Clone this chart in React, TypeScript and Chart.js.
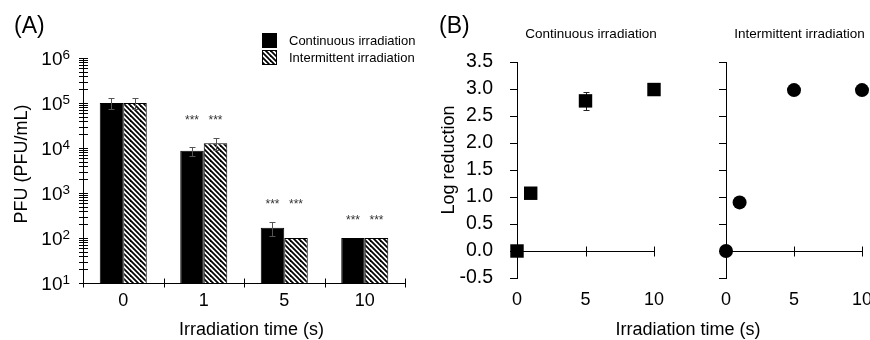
import React, { useEffect, useRef } from 'react';
import { Chart, registerables } from 'chart.js';

Chart.register(...registerables);

const FONT = '"Liberation Sans", Arial, Helvetica, sans-serif';

// ---------- Panel A data ----------
const timeCategories = ['0', '1', '5', '10'];
const seriesNames = ['Continuous irradiation', 'Intermittent irradiation'];
const continuousPFU = [100000, 8700, 170, 100];
const continuousSD = [27000, 2000, 60, 0];
const intermittentPFU = [100000, 12700, 100, 100];
const intermittentSD = [27000, 3700, 0, 0];
const continuousSig = ['', '***', '***', '***'];
const intermittentSig = ['', '***', '***', '***'];
const pfuTickExponents = [1, 2, 3, 4, 5, 6];

// ---------- Panel B data ----------
const timeSeconds = [0, 1, 5, 10];
const continuousLogRed = [0, 1.07, 2.78, 2.99];
const continuousLogRedSD = [0, 0, 0.17, 0];
const intermittentLogRed = [0, 0.9, 2.98, 2.98];
const logRedTicks = [-0.5, 0, 0.5, 1, 1.5, 2, 2.5, 3, 3.5];
const timeTicks = [0, 5, 10];

function makeHatch(): CanvasPattern | string {
  const c = document.createElement('canvas');
  c.width = 10;
  c.height = 10;
  const g = c.getContext('2d');
  if (!g) return '#888';
  g.fillStyle = '#fff';
  g.fillRect(0, 0, 10, 10);
  g.strokeStyle = '#000';
  g.lineWidth = 1.8;
  for (let k = -4; k <= 4; k++) {
    g.beginPath();
    g.moveTo(k * 5 - 3, -3);
    g.lineTo(k * 5 + 13, 13);
    g.stroke();
  }
  const p = g.createPattern(c, 'repeat');
  return p || '#888';
}

function drawErrorBars(chart: any, opts: any) {
  const ctx = chart.ctx;
  const ys = chart.scales.y;
  const cap = opts.cap ?? 3;
  ctx.save();
  ctx.strokeStyle = opts.color || '#555';
  ctx.lineWidth = 1;
  chart.data.datasets.forEach((ds: any, i: number) => {
    if (!ds.sd) return;
    const meta = chart.getDatasetMeta(i);
    meta.data.forEach((el: any, j: number) => {
      const sd = ds.sd[j];
      if (!sd) return;
      const raw = ds.data[j];
      const v = typeof raw === 'number' ? raw : raw.y;
      const x = Math.round(el.x) + 0.5;
      const t = Math.round(ys.getPixelForValue(v + sd)) + 0.5;
      const b = Math.round(ys.getPixelForValue(v - sd)) + 0.5;
      ctx.beginPath();
      ctx.moveTo(x, t);
      ctx.lineTo(x, b);
      ctx.moveTo(x - cap, t);
      ctx.lineTo(x + cap, t);
      ctx.moveTo(x - cap, b);
      ctx.lineTo(x + cap, b);
      ctx.stroke();
    });
  });
  ctx.restore();
}

const errorBarsPlugin = {
  id: 'errorBars',
  beforeDatasetsDraw(chart: any, _a: any, opts: any) {
    if (opts.layer === 'below') drawErrorBars(chart, opts);
  },
  afterDatasetsDraw(chart: any, _a: any, opts: any) {
    if (opts.layer !== 'below') drawErrorBars(chart, opts);
  },
};

const logAxisPlugin = {
  id: 'logAxis',
  afterDraw(chart: any, _a: any, opts: any) {
    const ctx = chart.ctx;
    const ys = chart.scales.y;
    const area = chart.chartArea;
    const x0 = Math.round(area.left) + 0.5;
    const exps: number[] = opts.exponents;
    ctx.save();
    ctx.strokeStyle = '#000';
    ctx.lineWidth = 1;
    ctx.beginPath();
    ctx.moveTo(x0, Math.round(area.top));
    ctx.lineTo(x0, Math.round(area.bottom) + 1);
    exps.forEach((e, k) => {
      const maxM = k === exps.length - 1 ? 1 : 9;
      for (let m = 1; m <= maxM; m++) {
        const py = Math.round(ys.getPixelForValue(m * Math.pow(10, e))) + 0.5;
        ctx.moveTo(x0 - 4.5, py);
        ctx.lineTo(x0 + 4.5, py);
      }
    });
    ctx.stroke();
    ctx.fillStyle = '#000';
    const right = area.left - 13;
    exps.forEach((e) => {
      const py = ys.getPixelForValue(Math.pow(10, e));
      const sup = String(e);
      ctx.font = `13.5px ${FONT}`;
      const sw = ctx.measureText(sup).width;
      ctx.textAlign = 'left';
      ctx.textBaseline = 'alphabetic';
      ctx.fillText(sup, right - sw, py + 1);
      ctx.font = `19px ${FONT}`;
      ctx.textAlign = 'right';
      ctx.fillText('10', right - sw, py + 6.8);
    });
    ctx.restore();
  },
};

const categoryAxisPlugin = {
  id: 'categoryAxis',
  afterDraw(chart: any) {
    const ctx = chart.ctx;
    const area = chart.chartArea;
    const n = chart.data.labels.length;
    const y0 = Math.round(area.bottom) + 0.5;
    ctx.save();
    ctx.strokeStyle = '#000';
    ctx.lineWidth = 1;
    ctx.beginPath();
    ctx.moveTo(Math.round(area.left), y0);
    ctx.lineTo(Math.round(area.right) + 1, y0);
    for (let i = 0; i <= n; i++) {
      const px = Math.round(area.left + ((area.right - area.left) * i) / n) + 0.5;
      ctx.moveTo(px, y0 - 5);
      ctx.lineTo(px, y0 + 4);
    }
    ctx.stroke();
    ctx.restore();
  },
};

const sigPlugin = {
  id: 'sigMarks',
  afterDatasetsDraw(chart: any, _a: any, opts: any) {
    const ctx = chart.ctx;
    const ys = chart.scales.y;
    const n = chart.data.labels.length;
    ctx.save();
    ctx.fillStyle = opts.color || '#333';
    ctx.font = `${opts.size || 12}px ${FONT}`;
    ctx.textAlign = 'center';
    ctx.textBaseline = 'alphabetic';
    for (let j = 0; j < n; j++) {
      let top = Infinity;
      chart.data.datasets.forEach((ds: any) => {
        const v = ds.data[j] + ((ds.sd && ds.sd[j]) || 0);
        top = Math.min(top, ys.getPixelForValue(v));
      });
      const yc = top - opts.offset;
      chart.data.datasets.forEach((ds: any, i: number) => {
        const s = ds.sig && ds.sig[j];
        if (!s) return;
        const el = chart.getDatasetMeta(i).data[j];
        ctx.fillText(s, el.x, yc + 7);
      });
    }
    ctx.restore();
  },
};

const boxLegendPlugin = {
  id: 'boxLegend',
  afterDraw(chart: any, _a: any, opts: any) {
    const ctx = chart.ctx;
    const { x, y, box, gap, textGap, size } = opts;
    ctx.save();
    chart.data.datasets.forEach((ds: any, i: number) => {
      const by = y + i * gap;
      ctx.fillStyle = ds.backgroundColor;
      ctx.fillRect(x, by, box, box);
      ctx.strokeStyle = '#000';
      ctx.lineWidth = 1;
      ctx.strokeRect(x + 0.5, by + 0.5, box - 1, box - 1);
      ctx.fillStyle = '#000';
      ctx.font = `${size}px ${FONT}`;
      ctx.textAlign = 'left';
      ctx.textBaseline = 'alphabetic';
      ctx.fillText(ds.label, x + box + textGap, by + box / 2 + size * 0.358);
    });
    ctx.restore();
  },
};

const zeroLinePlugin = {
  id: 'zeroLine',
  beforeDatasetsDraw(chart: any) {
    const ctx = chart.ctx;
    const xs = chart.scales.x;
    const ys = chart.scales.y;
    const area = chart.chartArea;
    const y0 = Math.round(ys.getPixelForValue(0)) + 0.5;
    ctx.save();
    ctx.strokeStyle = '#000';
    ctx.lineWidth = 1;
    ctx.beginPath();
    ctx.moveTo(Math.round(area.left), y0);
    ctx.lineTo(Math.round(area.right) + 1, y0);
    xs.ticks.forEach((t: any) => {
      const px = Math.round(xs.getPixelForValue(t.value)) + 0.5;
      ctx.moveTo(px, y0 - 5);
      ctx.lineTo(px, y0 + 5);
    });
    ctx.stroke();
    ctx.restore();
  },
};

function configA(hatch: any): any {
  return {
    type: 'bar',
    data: {
      labels: timeCategories,
      datasets: [
        {
          label: seriesNames[0],
          data: continuousPFU,
          backgroundColor: '#000',
          borderColor: '#000',
          borderWidth: 1,
          sd: continuousSD,
          sig: continuousSig,
        },
        {
          label: seriesNames[1],
          data: intermittentPFU,
          backgroundColor: hatch,
          borderColor: '#000',
          borderWidth: 1,
          sd: intermittentSD,
          sig: intermittentSig,
        },
      ],
    },
    options: {
      animation: false,
      responsive: false,
      events: [],
      layout: { padding: { top: 58, right: 30, left: 0, bottom: 0 }, autoPadding: false },
      datasets: { bar: { categoryPercentage: 0.584, barPercentage: 1 } },
      plugins: {
        legend: { display: false },
        tooltip: { enabled: false },
        errorBars: { color: '#555', cap: 3 },
        logAxis: { exponents: pfuTickExponents },
        sigMarks: { offset: 21, size: 12, color: '#333' },
        boxLegend: { x: 262, y: 33, box: 15, gap: 17, textGap: 12, size: 13 },
      },
      scales: {
        x: {
          ticks: { font: { family: FONT, size: 18 }, color: '#000', padding: 7 },
          grid: { display: false, drawTicks: false },
          border: { display: false },
          afterFit: (s: any) => {
            s.height = 57;
          },
        },
        y: {
          type: 'logarithmic',
          min: 10,
          max: 1e6,
          ticks: { display: false },
          grid: { display: false, drawTicks: false },
          border: { display: false },
          afterFit: (s: any) => {
            s.width = 83;
          },
        },
      },
    },
    plugins: [errorBarsPlugin, logAxisPlugin, categoryAxisPlugin, sigPlugin, boxLegendPlugin],
  };
}

function configB(
  values: number[],
  sds: number[] | null,
  pointStyle: string,
  radius: number,
  showYLabels: boolean,
  yWidth: number,
  padRight: number
): any {
  return {
    type: 'scatter',
    data: {
      datasets: [
        {
          data: timeSeconds.map((t, i) => ({ x: t, y: values[i] })),
          pointStyle,
          pointRadius: radius,
          backgroundColor: '#000',
          borderColor: '#000',
          borderWidth: 0,
          clip: false,
          sd: sds,
        },
      ],
    },
    options: {
      animation: false,
      responsive: false,
      events: [],
      layout: { padding: { top: 62, right: padRight, left: 0, bottom: 0 }, autoPadding: false },
      plugins: {
        legend: { display: false },
        tooltip: { enabled: false },
        errorBars: { color: '#222', cap: 3, layer: 'below' },
      },
      scales: {
        x: {
          type: 'linear',
          min: 0,
          max: 10,
          afterBuildTicks: (s: any) => {
            s.ticks = timeTicks.map((v) => ({ value: v }));
          },
          ticks: { font: { family: FONT, size: 18 }, color: '#000', padding: 11 },
          grid: { display: false, drawTicks: false },
          border: { display: false },
          afterFit: (s: any) => {
            s.height = 62;
          },
        },
        y: {
          type: 'linear',
          min: -0.5,
          max: 3.5,
          afterBuildTicks: (s: any) => {
            s.ticks = logRedTicks.map((v) => ({ value: v }));
          },
          ticks: {
            display: showYLabels,
            font: { family: FONT, size: 19.5 },
            color: '#000',
            padding: 17,
            callback: (v: any) => Number(v).toFixed(1),
          },
          grid: { drawOnChartArea: false, drawTicks: true, tickLength: 7, color: '#000', lineWidth: 1 },
          border: { display: true, color: '#000', width: 1 },
          afterFit: (s: any) => {
            s.width = yWidth;
          },
        },
      },
    },
    plugins: [zeroLinePlugin, errorBarsPlugin],
  };
}

const abs = (o: any): React.CSSProperties => ({ position: 'absolute', whiteSpace: 'nowrap', ...o });

export default function App() {
  const refA = useRef<HTMLCanvasElement>(null);
  const refB1 = useRef<HTMLCanvasElement>(null);
  const refB2 = useRef<HTMLCanvasElement>(null);

  useEffect(() => {
    const hatch = makeHatch();
    const charts: Chart[] = [];
    if (refA.current) charts.push(new Chart(refA.current, configA(hatch)));
    if (refB1.current)
      charts.push(new Chart(refB1.current, configB(continuousLogRed, continuousLogRedSD, 'rect', 9.5, true, 77, 26)));
    if (refB2.current)
      charts.push(new Chart(refB2.current, configB(intermittentLogRed, null, 'circle', 7, false, 36, 28)));
    return () => charts.forEach((c) => c.destroy());
  }, []);

  return (
    <div
      style={{
        position: 'absolute',
        left: 0,
        top: 0,
        width: 870,
        height: 340,
        background: '#fff',
        overflow: 'hidden',
        fontFamily: FONT,
        color: '#000',
      }}
    >
      <canvas ref={refA} width={435} height={340} style={abs({ left: 0, top: 0, width: 435, height: 340 })} />
      <canvas ref={refB1} width={240} height={340} style={abs({ left: 440, top: 0, width: 240, height: 340 })} />
      <canvas ref={refB2} width={200} height={340} style={abs({ left: 690, top: 0, width: 200, height: 340 })} />

      <div style={abs({ left: 14, top: 14, fontSize: 23, lineHeight: '23px' })}>(A)</div>
      <div style={abs({ left: 439, top: 14, fontSize: 23, lineHeight: '23px' })}>(B)</div>

      <div style={abs({ left: 251.5, top: 320, fontSize: 18, lineHeight: '18px', transform: 'translateX(-50%)' })}>
        Irradiation time (s)
      </div>
      <div style={abs({ left: 688, top: 320, fontSize: 18, lineHeight: '18px', transform: 'translateX(-50%)' })}>
        Irradiation time (s)
      </div>
      <div
        style={abs({
          left: 20.5,
          top: 164,
          fontSize: 18,
          lineHeight: '18px',
          transform: 'translate(-50%, -50%) rotate(-90deg)',
        })}
      >
        PFU (PFU/mL)
      </div>
      <div
        style={abs({
          left: 447.5,
          top: 160,
          fontSize: 18,
          lineHeight: '18px',
          transform: 'translate(-50%, -50%) rotate(-90deg)',
        })}
      >
        Log reduction
      </div>
      <div style={abs({ left: 591, top: 27, fontSize: 13.5, lineHeight: '13px', transform: 'translateX(-50%)' })}>
        {seriesNames[0]}
      </div>
      <div style={abs({ left: 799.5, top: 27, fontSize: 13.5, lineHeight: '13px', transform: 'translateX(-50%)' })}>
        {seriesNames[1]}
      </div>
    </div>
  );
}
